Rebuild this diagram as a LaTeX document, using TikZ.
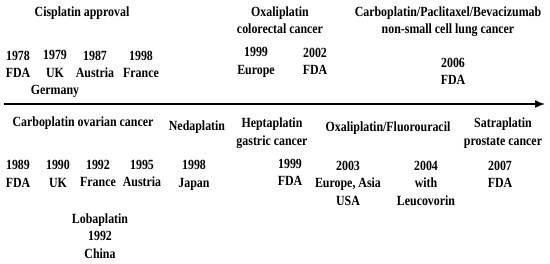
\documentclass[tikz,border=0pt]{standalone}
\usepackage{fontspec}
\setmainfont[FakeStretch=0.85]{Liberation Serif}
\usetikzlibrary{arrows.meta,positioning}

\begin{document}
\begin{tikzpicture}[
  x=1pt,y=-1pt,
  event/.style={font=\fontsize{14}{17.5}\selectfont\bfseries,align=center,inner sep=0pt,anchor=north},
  arrow/.style={-{Latex[length=10pt,width=8pt]},line width=1.4pt}
]
  \useasboundingbox (0,0) rectangle (550,263);

  % above the time line
  \node[event] (cis) at (82,6.5) {Cisplatin approval};
  \node[event] (y1978) at (18,50.5) {1978\\FDA};
  \node[event] (y1979) at (55,50.5) {1979\\UK\\Germany};
  \node[event] (y1987) at (95,50.5) {1987\\Austria};
  \node[event] (y1998a) at (141,50.5) {1998\\France};
  \node[event] (oxa) at (280,6.5) {Oxaliplatin\\colorectal cancer};
  \node[event] (y1999a) at (256,47.5) {1999\\Europe};
  \node[event] (y2002) at (315,47.5) {2002\\FDA};
  \node[event] (cpb) at (448,6.5) {Carboplatin/Paclitaxel/Bevacizumab\\non-small cell lung cancer};
  \node[event] (y2006) at (453,57.5) {2006\\FDA};

  % time line
  \coordinate (start) at (4,104);
  \coordinate (end) at (545,104);
  \draw[arrow] (start) -- (end);

  % below the time line
  \node[event] (carbo) at (83,117) {Carboplatin ovarian cancer};
  \node[event] (y1989) at (18,160) {1989\\FDA};
  \node[event] (y1990) at (58,160) {1990\\UK};
  \node[event] (y1992) at (98,160) {1992\\France};
  \node[event] (y1995) at (142,160) {1995\\Austria};
  \node[event] (loba) at (100,213.5) {Lobaplatin\\1992\\China};
  \node[event] (neda) at (197,121) {Nedaplatin};
  \node[event] (y1998b) at (194,160) {1998\\Japan};
  \node[event] (hepta) at (272,118) {Heptaplatin\\gastric cancer};
  \node[event] (y1999b) at (290,159) {1999\\FDA};
  \node[event] (oxaflu) at (388,122) {Oxaliplatin/Fluorouracil};
  \node[event] (y2003) at (348,160.5) {2003\\Europe, Asia\\USA};
  \node[event] (y2004) at (426,160.5) {2004\\with\\Leucovorin};
  \node[event] (satra) at (503,118) {Satraplatin\\prostate cancer};
  \node[event] (y2007) at (500,160.5) {2007\\FDA};
\end{tikzpicture}
\end{document}
